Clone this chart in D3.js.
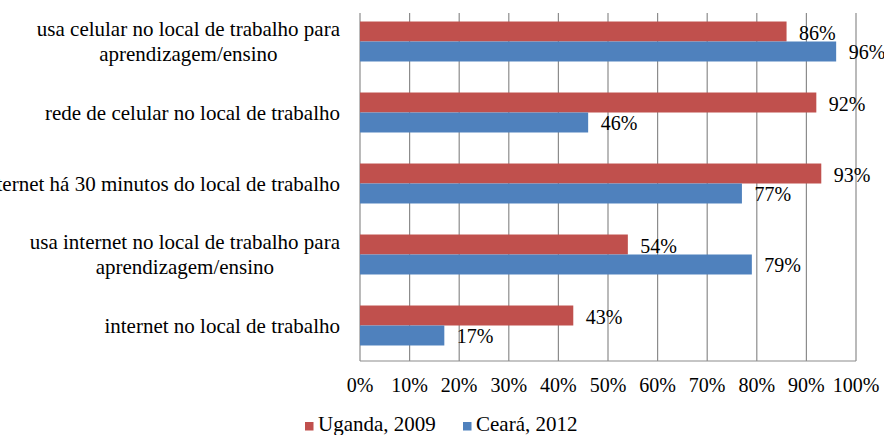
<!DOCTYPE html>
<html>
<head>
<meta charset="utf-8">
<script src="https://cdn.jsdelivr.net/npm/d3@7"></script>
<style>
  body { margin: 0; background: #fff; }
</style>
</head>
<body>
<div id="chart-area"></div>
<script>
// categories top to bottom, each may wrap to two lines
const categories = [
  ["usa celular no local de trabalho para", "aprendizagem/ensino"],
  ["rede de celular no local de trabalho"],
  ["internet há 30 minutos do local de trabalho"],
  ["usa internet no local de trabalho para", "aprendizagem/ensino"],
  ["internet no local de trabalho"]
];
const seriesNames = ["Uganda, 2009", "Ceará, 2012"];
const uganda = [86, 92, 93, 54, 43];
const ceara = [96, 46, 77, 79, 17];
const tickValues = [0, 10, 20, 30, 40, 50, 60, 70, 80, 90, 100];

const colors = ["#C0504D", "#4F81BD"];
const fontFamily = "'Liberation Serif', 'Times New Roman', serif";
const svgWidth = 884;
const svgHeight = 435;

const svg = d3.select("#chart-area")
  .append("svg")
  .attr("width", svgWidth)
  .attr("height", svgHeight)
  .style("font-family", fontFamily);

const plot = { left: 360, right: 856, top: 6, bottom: 361, gridTop: 13 };

const x = d3.scaleLinear()
  .domain([0, 100])
  .range([plot.left, plot.right]);

const y = d3.scaleBand()
  .domain(d3.range(categories.length))
  .range([plot.top, plot.bottom])
  .paddingInner(0.437)
  .paddingOuter(0.2185);

const sub = d3.scaleBand()
  .domain([0, 1])
  .range([0, y.bandwidth()]);

// gridlines
svg.append("g")
  .selectAll("line")
  .data(tickValues)
  .enter()
  .append("line")
  .attr("x1", d => x(d))
  .attr("x2", d => x(d))
  .attr("y1", plot.gridTop)
  .attr("y2", plot.bottom)
  .attr("stroke", "#8c8c8c")
  .attr("stroke-width", 1.2);

// bottom axis line
svg.append("line")
  .attr("x1", plot.left)
  .attr("x2", plot.right)
  .attr("y1", plot.bottom)
  .attr("y2", plot.bottom)
  .attr("stroke", "#8c8c8c")
  .attr("stroke-width", 1.2);

// tick labels
svg.append("g")
  .selectAll("text")
  .data(tickValues)
  .enter()
  .append("text")
  .attr("x", d => x(d))
  .attr("y", 392)
  .attr("text-anchor", "middle")
  .attr("font-size", 20)
  .attr("fill", "#000")
  .text(d => d + "%");

// bars
const rows = categories.map((c, i) => ({ i, vals: [uganda[i], ceara[i]] }));

const groups = svg.append("g")
  .selectAll("g")
  .data(rows)
  .enter()
  .append("g")
  .attr("transform", d => `translate(0,${y(d.i)})`);

groups.selectAll("rect")
  .data(d => d.vals.map((v, s) => ({ v, s })))
  .enter()
  .append("rect")
  .attr("x", plot.left)
  .attr("y", d => sub(d.s))
  .attr("width", d => x(d.v) - plot.left)
  .attr("height", sub.bandwidth())
  .attr("fill", d => colors[d.s]);

groups.selectAll("text.val")
  .data(d => d.vals.map((v, s) => ({ v, s })))
  .enter()
  .append("text")
  .attr("class", "val")
  .attr("x", d => x(d.v) + 12.5)
  .attr("y", d => sub(d.s) + sub.bandwidth() / 2 + 8)
  .attr("font-size", 20)
  .attr("fill", "#000")
  .text(d => d.v + "%");

// category labels
const labelG = svg.append("g")
  .selectAll("g")
  .data(categories)
  .enter()
  .append("g")
  .attr("transform", (d, i) => `translate(0,${y(i) + y.bandwidth() / 2})`);

labelG.each(function(lines) {
  const g = d3.select(this);
  // widest line sets a right-aligned block, lines centered within it
  const tmp = lines.map(l => g.append("text").attr("font-size", 21).text(l));
  const widths = tmp.map(t => t.node().getComputedTextLength());
  tmp.forEach(t => t.remove());
  const w = d3.max(widths);
  const cx = 340 - w / 2;
  const lh = 25;
  lines.forEach((l, k) => {
    g.append("text")
      .attr("x", cx)
      .attr("y", (k - (lines.length - 1) / 2) * lh + 7)
      .attr("text-anchor", "middle")
      .attr("font-size", 21)
      .attr("fill", "#000")
      .text(l);
  });
});

// legend
const legendItems = [
  { name: seriesNames[0], color: colors[0], x: 305 },
  { name: seriesNames[1], color: colors[1], x: 463 }
];
const lg = svg.append("g")
  .selectAll("g")
  .data(legendItems)
  .enter()
  .append("g")
  .attr("transform", d => `translate(${d.x},0)`);
lg.append("rect")
  .attr("x", 0)
  .attr("y", 422)
  .attr("width", 8.5)
  .attr("height", 8.5)
  .attr("fill", d => d.color);
lg.append("text")
  .attr("x", 13)
  .attr("y", 431)
  .attr("font-size", 21)
  .attr("fill", "#000")
  .text(d => d.name);
</script>
</body>
</html>
